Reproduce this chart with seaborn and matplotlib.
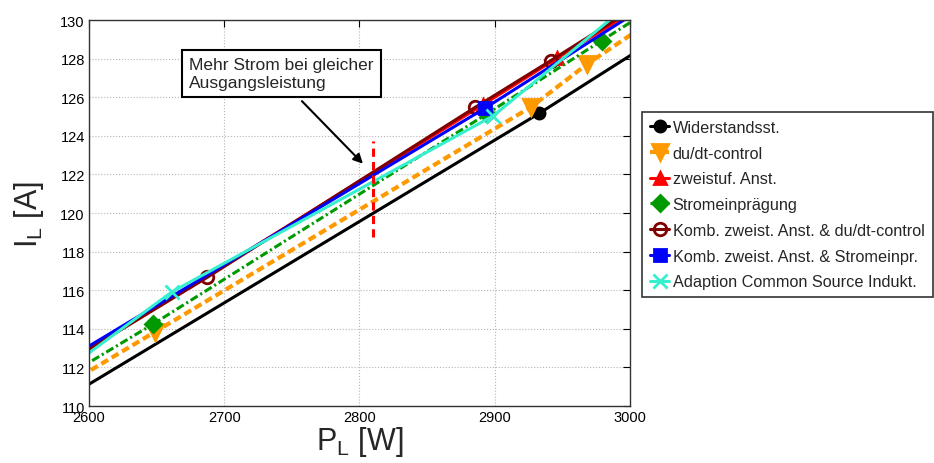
import matplotlib as mpl
mpl.use('Agg')
import matplotlib.pyplot as plt
import seaborn as sns

sns.set_theme(style='white')
plt.rcParams['font.family'] = ['Liberation Sans', 'DejaVu Sans']
plt.rcParams['mathtext.default'] = 'regular'

# data (power P in W, current I in A)
p_wid = [2540, 2933, 3100]
i_wid = [108.6, 125.17, 132.6]
p_dudt = [2540, 2649, 2927, 2968, 3100]
i_dudt = [109.3, 113.85, 125.5, 127.7, 133.9]
p_zweistuf = [2560, 2891, 2946, 3100]
i_zweistuf = [111.2, 125.6, 128.02, 134.7]
p_strom = [2550, 2647.5, 2894, 2979, 3100]
i_strom = [110.15, 114.25, 125.13, 128.93, 134.3]
p_komb_dudt = [2540, 2687.5, 2885.4, 2941.3, 3100]
i_komb_dudt = [110.4, 116.67, 125.47, 127.89, 134.9]
p_komb_strom = [2550, 2893, 3100]
i_komb_strom = [111.0, 125.44, 134.65]
p_adapt = [2540, 2661, 2899, 3050]
i_adapt = [109.65, 115.9, 125.04, 133.75]

labels = ['Widerstandsst.', 'du/dt-control', 'zweistuf. Anst.', 'Stromeinprägung',
          'Komb. zweist. Anst. & du/dt-control', 'Komb. zweist. Anst. & Stromeinpr.',
          'Adaption Common Source Indukt.']

mark_p = [2810, 2810]
mark_i = [118.75, 123.75]
note_text = 'Mehr Strom bei gleicher\nAusgangsleistung'
note_xy = (2674, 128.1)
arrow_from = (2756, 125.9)
arrow_to = (2804, 122.45)

series = [
    (p_wid, i_wid, dict(color='black', ls='-', lw=2.2, marker='o', ms=8)),
    (p_dudt, i_dudt, dict(color='#FF9900', ls=(0, (1.9, 1.0)), lw=3.0, marker='v', ms=11)),
    (p_zweistuf, i_zweistuf, dict(color='#FF0000', ls='-', lw=2.2, marker='^', ms=9)),
    (p_strom, i_strom, dict(color='#009900', ls=(0, (2.7, 1.0, 0.7, 1.0)), lw=2.2, marker='D', ms=8)),
    (p_komb_dudt, i_komb_dudt, dict(color='#800000', ls='-', lw=2.2, marker='o', ms=9, mfc='none')),
    (p_komb_strom, i_komb_strom, dict(color='#0000FF', ls='-', lw=2.2, marker='s', ms=9)),
    (p_adapt, i_adapt, dict(color='#35EFCF', ls='-', lw=2.2, marker='x', ms=10)),
]

fig = plt.figure(figsize=(9.34, 4.64), dpi=100)
ax = fig.add_axes([0.0953, 0.1228, 0.5792, 0.8319])

for (p, i, st), lab in zip(series, labels):
    sns.lineplot(x=p, y=i, ax=ax, label=lab, color=st['color'], linestyle=st['ls'],
                 linewidth=st['lw'], marker=st['marker'], markersize=st['ms'],
                 markerfacecolor=st.get('mfc', st['color']), markeredgecolor=st['color'],
                 markeredgewidth=2)

ax.plot(mark_p, mark_i, color='#FF0000', ls=(0, (2.7, 1.7)), lw=2.2)

ax.text(note_xy[0], note_xy[1], note_text, fontsize=12.5, va='top', ha='left', linespacing=1.3,
        bbox=dict(boxstyle='square,pad=0.4', fc='white', ec='black', lw=1.5), zorder=5)
ax.annotate('', xy=arrow_to, xytext=arrow_from,
            arrowprops=dict(arrowstyle='-|>', color='black', lw=1.5, mutation_scale=14))

ax.set_xlim(2600, 3000)
ax.set_ylim(110, 130)
ax.set_xticks([2600, 2700, 2800, 2900, 3000])
ax.set_yticks(range(110, 131, 2))
ax.grid(True, ls=':', color='#b5b5b5', lw=0.8)
ax.tick_params(direction='in', top=True, right=True, length=5, width=0.8,
               labelsize=10.5, pad=3, colors='black')
for s in ax.spines.values():
    s.set_color('#333333')
    s.set_linewidth(1.0)

ax.set_xlabel(r'P$_L$ [W]', fontsize=22, labelpad=0)
ax.set_ylabel(r'I$_L$ [A]', fontsize=22, labelpad=10)

ax.legend(loc='upper left', bbox_to_anchor=(0.687, 0.757), bbox_transform=fig.transFigure,
          frameon=True, fancybox=False, edgecolor='black', fontsize=11.7, handlelength=1.2,
          handletextpad=0.2, borderaxespad=0, labelspacing=0.66, borderpad=0.5)
ax.get_legend().get_frame().set_linewidth(1.2)

fig.savefig('out.png', dpi=100)
